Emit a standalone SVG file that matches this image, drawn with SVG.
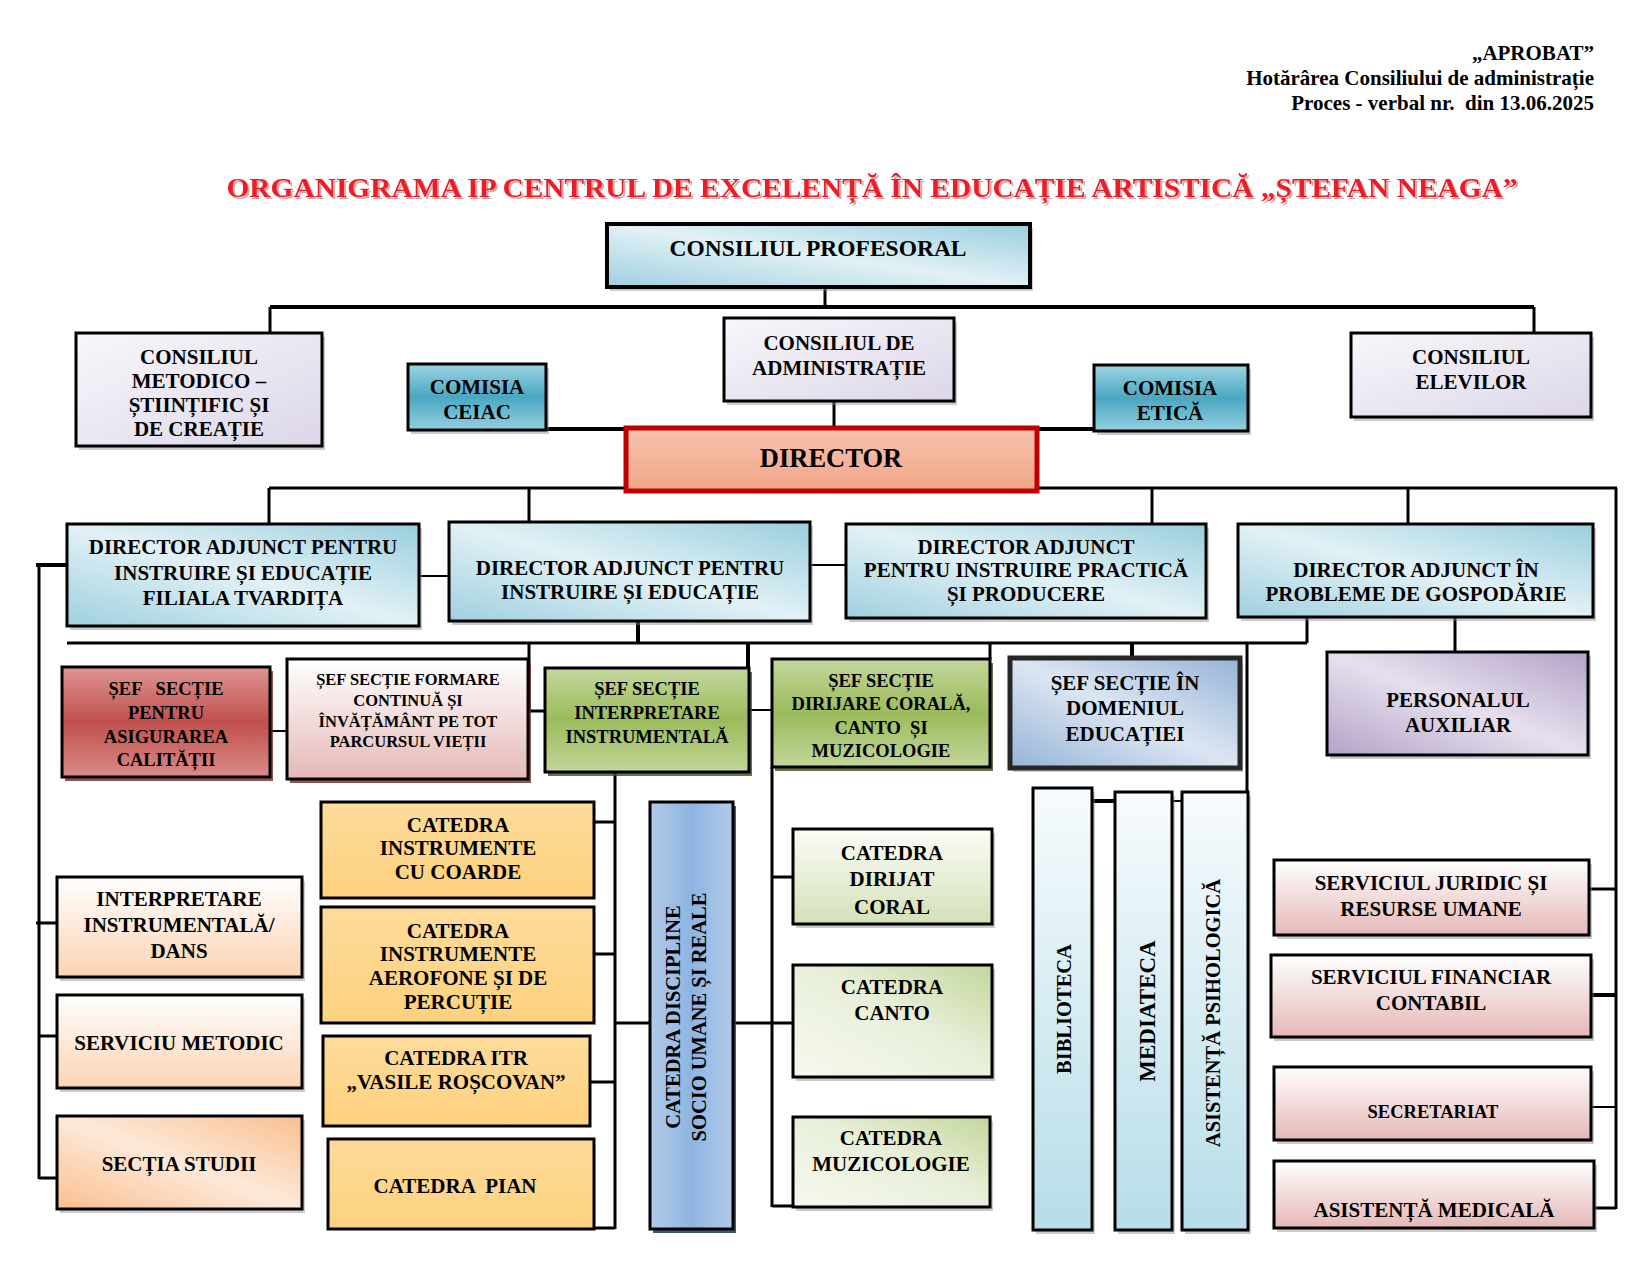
<svg xmlns="http://www.w3.org/2000/svg" width="1650" height="1275" viewBox="0 0 1650 1275">
<defs>
<linearGradient id="gBlue" x1="0" y1="1" x2="1" y2="0"><stop offset="0" stop-color="#9fd0df"/><stop offset="0.5" stop-color="#e2f1f6"/><stop offset="1" stop-color="#99cedd"/></linearGradient>
<linearGradient id="gLav" x1="0" y1="0" x2="1" y2="1"><stop offset="0" stop-color="#f8f7fb"/><stop offset="1" stop-color="#dcd6e8"/></linearGradient>
<linearGradient id="gTeal" x1="0" y1="0" x2="0" y2="1"><stop offset="0" stop-color="#9dd4e3"/><stop offset="0.5" stop-color="#4aa7c1"/><stop offset="1" stop-color="#94d0e0"/></linearGradient>
<linearGradient id="gDir" x1="0" y1="0" x2="0" y2="1"><stop offset="0" stop-color="#f7c3ae"/><stop offset="1" stop-color="#f1a587"/></linearGradient>
<linearGradient id="gRed" x1="0" y1="0" x2="0" y2="1"><stop offset="0" stop-color="#df9593"/><stop offset="0.5" stop-color="#c0504d"/><stop offset="1" stop-color="#d98b88"/></linearGradient>
<linearGradient id="gPinkW" x1="0" y1="0" x2="0" y2="1"><stop offset="0" stop-color="#ffffff"/><stop offset="1" stop-color="#e5b8b7"/></linearGradient>
<linearGradient id="gGreen" x1="0" y1="0" x2="0" y2="1"><stop offset="0" stop-color="#c4d79d"/><stop offset="0.5" stop-color="#9cbb5b"/><stop offset="1" stop-color="#c2d69a"/></linearGradient>
<linearGradient id="gEduc" x1="0" y1="1" x2="1" y2="0"><stop offset="0" stop-color="#95b3d7"/><stop offset="0.5" stop-color="#dce6f2"/><stop offset="1" stop-color="#95b3d7"/></linearGradient>
<linearGradient id="gPurple" x1="0" y1="1" x2="1" y2="0"><stop offset="0" stop-color="#b3a2c7"/><stop offset="0.5" stop-color="#e6e0ee"/><stop offset="1" stop-color="#b3a2c7"/></linearGradient>
<linearGradient id="gPeach" x1="0" y1="0" x2="0" y2="1"><stop offset="0" stop-color="#ffffff"/><stop offset="1" stop-color="#fbd3b3"/></linearGradient>
<linearGradient id="gPeachD" x1="0" y1="1" x2="1" y2="0"><stop offset="0" stop-color="#fabf8f"/><stop offset="0.5" stop-color="#fde9d9"/><stop offset="1" stop-color="#fabf8f"/></linearGradient>
<linearGradient id="gYellow" x1="0" y1="0" x2="0" y2="1"><stop offset="0" stop-color="#fedb9b"/><stop offset="1" stop-color="#fdd27e"/></linearGradient>
<linearGradient id="gDisc" x1="0" y1="0" x2="1" y2="0"><stop offset="0" stop-color="#b3cbe9"/><stop offset="0.5" stop-color="#8db4e2"/><stop offset="1" stop-color="#b3cbe9"/></linearGradient>
<linearGradient id="gLgreen" x1="0" y1="0" x2="0" y2="1"><stop offset="0" stop-color="#fbfcf7"/><stop offset="1" stop-color="#d3e1b8"/></linearGradient>
<linearGradient id="gLgreenD" x1="0" y1="1" x2="1" y2="0"><stop offset="0" stop-color="#f6f9ef"/><stop offset="0.55" stop-color="#e8efd9"/><stop offset="1" stop-color="#c3d69b"/></linearGradient>
<linearGradient id="gLblue" x1="0" y1="0" x2="0" y2="1"><stop offset="0" stop-color="#f7fbfd"/><stop offset="1" stop-color="#b7dde8"/></linearGradient>
<filter id="tsh" x="-5%" y="-30%" width="110%" height="160%"><feDropShadow dx="2" dy="2" stdDeviation="0.6" flood-color="#b07070" flood-opacity="0.6"/></filter>
</defs>
<style>
.sh{fill:#8c8c8c;opacity:0.45}
.b{stroke:#000;stroke-width:3}
.t{font-family:"Liberation Serif","Times New Roman",serif;font-weight:bold;font-size:21px;text-anchor:middle;fill:#000}
.s18{font-size:18.5px}
.s16{font-size:16.5px}
.v{font-size:20.5px}
.big{font-size:23.5px}
.dir{font-size:26.5px}
.med{font-size:23px}
.hd{font-family:"Liberation Serif","Times New Roman",serif;font-weight:bold;font-size:21px;text-anchor:end;fill:#000}
.ti{font-family:"Liberation Serif","Times New Roman",serif;font-weight:bold;font-size:28px;text-anchor:middle;fill:#ee1c25}
.c{stroke:#000;stroke-width:3;fill:none}
.c2{stroke:#000;stroke-width:2;fill:none}
.c4{stroke:#000;stroke-width:4;fill:none}
</style>

<g id="header">
<text class="hd" x="1594" y="60">„APROBAT”</text>
<text class="hd" x="1594" y="85">Hotărârea Consiliului de administrație</text>
<text class="hd" x="1594" y="110" xml:space="preserve">Proces - verbal nr.  din 13.06.2025</text>
<text class="ti" x="872" y="197" textLength="1291" lengthAdjust="spacingAndGlyphs" filter="url(#tsh)">ORGANIGRAMA IP CENTRUL DE EXCELENȚĂ ÎN EDUCAȚIE ARTISTICĂ „ȘTEFAN NEAGA”</text>
</g>

<g id="connectors">
<path class="c" d="M825 287V307"/>
<path class="c4" d="M270 307H1534"/>
<path class="c" d="M270 307V333M1534 307V333"/>
<path class="c" d="M834 401V428"/>
<path class="c4" d="M546 429H626M1037 429H1094"/>
<path class="c" d="M269 488H626M1037 488H1617"/>
<path class="c" d="M269 488V524M529 488V522M1152 488V524M1408 488V524"/>
<path class="c" d="M1616 488V1209"/>
<path class="c4" d="M36 565H67"/>
<path class="c" d="M39 565V1179"/>
<path class="c2" d="M419 576H449M810 565H846"/>
<path class="c" d="M67 643H1307"/>
<path class="c4" d="M638 621V643"/>
<path class="c" d="M1307 617V643M1455 617V652"/>
<path class="c" d="M529 643V711H545"/>
<path class="c4" d="M748 643V668"/>
<path class="c2" d="M749 710H772M270 731H287"/>
<path class="c" d="M990 643V659"/>
<path class="c4" d="M1132 643V658"/>
<path class="c" d="M1247 643V792"/>
<path class="c4" d="M1092 801H1115"/>
<path class="c2" d="M1172 801H1182"/>
<path class="c" d="M615 772V1229M594 822H615M594 954H615M590 1082H615M594 1228H615"/>
<path class="c" d="M615 1023H650" stroke-width="5"/>
<path class="c" d="M772 767V1207M772 877H793M733 1023H793M772 1206H793"/>
<path class="c" d="M36 923H57M39 1036H57M39 1178H57"/>
<path class="c" d="M1589 889H1616M1594 1208H1616"/>
<path class="c4" d="M1591 995H1616"/>
<path class="c2" d="M1591 1107H1616" stroke-width="1.5"/>
</g>

<g id="consiliul-profesoral">
<rect class="sh" x="610" y="228" width="423" height="63"/>
<rect x="607" y="224" width="423" height="63" fill="url(#gBlue)" stroke="#000" stroke-width="4"/>
<text class="t big" x="818" y="256">CONSILIUL PROFESORAL</text>
</g>

<g id="consiliul-metodico">
<rect class="sh" x="79" y="337" width="246" height="113"/>
<rect class="b" x="76" y="333" width="246" height="113" fill="url(#gLav)"/>
<text class="t" x="199" y="364">CONSILIUL</text>
<text class="t" x="199" y="388">METODICO –</text>
<text class="t" x="199" y="412">ȘTIINȚIFIC ȘI</text>
<text class="t" x="199" y="436">DE CREAȚIE</text>
</g>

<g id="comisia-ceiac">
<rect class="sh" x="411" y="368" width="138" height="66"/>
<rect class="b" x="408" y="364" width="138" height="66" fill="url(#gTeal)"/>
<text class="t" x="477" y="394">COMISIA</text>
<text class="t" x="477" y="419">CEIAC</text>
</g>

<g id="consiliul-administratie">
<rect class="sh" x="727" y="322" width="230" height="83"/>
<rect class="b" x="724" y="318" width="230" height="83" fill="url(#gLav)"/>
<text class="t" x="839" y="350">CONSILIUL DE</text>
<text class="t" x="839" y="375">ADMINISTRAȚIE</text>
</g>

<g id="comisia-etica">
<rect class="sh" x="1097" y="369" width="154" height="66"/>
<rect class="b" x="1094" y="365" width="154" height="66" fill="url(#gTeal)"/>
<text class="t" x="1170" y="395">COMISIA</text>
<text class="t" x="1170" y="420">ETICĂ</text>
</g>

<g id="consiliul-elevilor">
<rect class="sh" x="1354" y="337" width="240" height="84"/>
<rect class="b" x="1351" y="333" width="240" height="84" fill="url(#gLav)"/>
<text class="t" x="1471" y="364">CONSILIUL</text>
<text class="t" x="1471" y="389">ELEVILOR</text>
</g>

<g id="director">
<rect x="626" y="428" width="411" height="63" fill="url(#gDir)" stroke="#c00000" stroke-width="5"/>
<text class="t dir" x="831" y="467">DIRECTOR</text>
</g>

<g id="da-filiala">
<rect class="sh" x="70" y="528" width="352" height="102"/>
<rect class="b" x="67" y="524" width="352" height="102" fill="url(#gBlue)"/>
<text class="t" x="243" y="554">DIRECTOR ADJUNCT PENTRU</text>
<text class="t" x="243" y="580">INSTRUIRE ȘI EDUCAȚIE</text>
<text class="t" x="243" y="605">FILIALA TVARDIȚA</text>
</g>

<g id="da-instruire">
<rect class="sh" x="452" y="526" width="361" height="99"/>
<rect class="b" x="449" y="522" width="361" height="99" fill="url(#gBlue)"/>
<text class="t" x="630" y="575">DIRECTOR ADJUNCT PENTRU</text>
<text class="t" x="630" y="599">INSTRUIRE ȘI EDUCAȚIE</text>
</g>

<g id="da-practica">
<rect class="sh" x="849" y="528" width="360" height="94"/>
<rect class="b" x="846" y="524" width="360" height="94" fill="url(#gBlue)"/>
<text class="t" x="1026" y="554">DIRECTOR ADJUNCT</text>
<text class="t" x="1026" y="577">PENTRU INSTRUIRE PRACTICĂ</text>
<text class="t" x="1026" y="601">ȘI PRODUCERE</text>
</g>

<g id="da-gospodarie">
<rect class="sh" x="1241" y="528" width="355" height="93"/>
<rect class="b" x="1238" y="524" width="355" height="93" fill="url(#gBlue)"/>
<text class="t" x="1416" y="577">DIRECTOR ADJUNCT ÎN</text>
<text class="t" x="1416" y="601">PROBLEME DE GOSPODĂRIE</text>
</g>

<g id="sef-calitate">
<rect x="65" y="671" width="208" height="110" fill="#7a2b29" opacity="0.8"/>
<rect class="b" x="62" y="667" width="208" height="110" fill="url(#gRed)"/>
<text class="t s18" x="166" y="695" xml:space="preserve">ȘEF   SECȚIE</text>
<text class="t s18" x="166" y="719">PENTRU</text>
<text class="t s18" x="166" y="743">ASIGURAREA</text>
<text class="t s18" x="166" y="766">CALITĂȚII</text>
</g>

<g id="sef-formare">
<rect x="290" y="663" width="241" height="120" fill="#6b2a29" opacity="0.8"/>
<rect class="b" x="287" y="659" width="241" height="120" fill="url(#gPinkW)"/>
<text class="t s16" x="408" y="685">ȘEF SECȚIE FORMARE</text>
<text class="t s16" x="408" y="706">CONTINUĂ ȘI</text>
<text class="t s16" x="408" y="727">ÎNVĂȚĂMÂNT PE TOT</text>
<text class="t s16" x="408" y="747">PARCURSUL VIEȚII</text>
</g>

<g id="sef-interpretare">
<rect x="548" y="672" width="204" height="104" fill="#3f4f1f" opacity="0.8"/>
<rect class="b" x="545" y="668" width="204" height="104" fill="url(#gGreen)"/>
<text class="t s18" x="647" y="695">ȘEF SECȚIE</text>
<text class="t s18" x="647" y="719">INTERPRETARE</text>
<text class="t s18" x="647" y="743">INSTRUMENTALĂ</text>
</g>

<g id="sef-dirijare">
<rect x="775" y="663" width="218" height="108" fill="#3f4f1f" opacity="0.8"/>
<rect class="b" x="772" y="659" width="218" height="108" fill="url(#gGreen)"/>
<text class="t s18" x="881" y="687">ȘEF SECȚIE</text>
<text class="t s18" x="881" y="710">DIRIJARE CORALĂ,</text>
<text class="t s18" x="881" y="734" xml:space="preserve">CANTO  ȘI</text>
<text class="t s18" x="881" y="757">MUZICOLOGIE</text>
</g>

<g id="sef-educatie">
<rect class="sh" x="1013" y="662" width="230" height="110"/>
<rect x="1010" y="658" width="230" height="110" fill="url(#gEduc)" stroke="#262626" stroke-width="5"/>
<text class="t" x="1125" y="690">ȘEF SECȚIE ÎN</text>
<text class="t" x="1125" y="715">DOMENIUL</text>
<text class="t" x="1125" y="741">EDUCAȚIEI</text>
</g>

<g id="personalul-auxiliar">
<rect class="sh" x="1330" y="656" width="261" height="103"/>
<rect class="b" x="1327" y="652" width="261" height="103" fill="url(#gPurple)"/>
<text class="t" x="1458" y="707">PERSONALUL</text>
<text class="t" x="1458" y="732">AUXILIAR</text>
</g>

<g id="interpretare-dans">
<rect class="sh" x="60" y="881" width="245" height="100"/>
<rect class="b" x="57" y="877" width="245" height="100" fill="url(#gPeach)"/>
<text class="t" x="179" y="906">INTERPRETARE</text>
<text class="t" x="179" y="932">INSTRUMENTALĂ/</text>
<text class="t" x="179" y="958">DANS</text>
</g>

<g id="serviciu-metodic">
<rect class="sh" x="60" y="999" width="245" height="93"/>
<rect class="b" x="57" y="995" width="245" height="93" fill="url(#gPeach)"/>
<text class="t" x="179" y="1050">SERVICIU METODIC</text>
</g>

<g id="sectia-studii">
<rect class="sh" x="60" y="1120" width="245" height="93"/>
<rect class="b" x="57" y="1116" width="245" height="93" fill="url(#gPeachD)"/>
<text class="t" x="179" y="1171">SECȚIA STUDII</text>
</g>

<g id="catedra-coarde">
<rect class="b" x="321" y="802" width="273" height="96" fill="url(#gYellow)"/>
<text class="t" x="458" y="832">CATEDRA</text>
<text class="t" x="458" y="855">INSTRUMENTE</text>
<text class="t" x="458" y="879">CU COARDE</text>
</g>

<g id="catedra-aerofone">
<rect class="b" x="321" y="907" width="273" height="116" fill="url(#gYellow)"/>
<text class="t" x="458" y="938">CATEDRA</text>
<text class="t" x="458" y="961">INSTRUMENTE</text>
<text class="t" x="458" y="985">AEROFONE ȘI DE</text>
<text class="t" x="458" y="1009">PERCUȚIE</text>
</g>

<g id="catedra-itr">
<rect class="b" x="323" y="1036" width="267" height="90" fill="url(#gYellow)"/>
<text class="t" x="456" y="1065">CATEDRA ITR</text>
<text class="t" x="456" y="1089">„VASILE ROȘCOVAN”</text>
</g>

<g id="catedra-pian">
<rect class="b" x="328" y="1139" width="266" height="90" fill="url(#gYellow)"/>
<text class="t" x="455" y="1193" xml:space="preserve">CATEDRA  PIAN</text>
</g>

<g id="catedra-discipline">
<rect x="653" y="806" width="83" height="427" fill="#1f3a5f" opacity="0.85"/>
<rect class="b" x="650" y="802" width="83" height="427" fill="url(#gDisc)"/>
<text class="t v" x="680" y="1017" transform="rotate(-90 680 1017)">CATEDRA DISCIPLINE</text>
<text class="t v" x="706" y="1017" transform="rotate(-90 706 1017)">SOCIO UMANE ȘI REALE</text>
</g>

<g id="catedra-dirijat">
<rect class="sh" x="796" y="833" width="199" height="95"/>
<rect class="b" x="793" y="829" width="199" height="95" fill="url(#gLgreen)"/>
<text class="t" x="892" y="860">CATEDRA</text>
<text class="t" x="892" y="886">DIRIJAT</text>
<text class="t" x="892" y="914">CORAL</text>
</g>

<g id="catedra-canto">
<rect class="sh" x="796" y="969" width="199" height="112"/>
<rect class="b" x="793" y="965" width="199" height="112" fill="url(#gLgreenD)"/>
<text class="t" x="892" y="994">CATEDRA</text>
<text class="t" x="892" y="1020">CANTO</text>
</g>

<g id="catedra-muzicologie">
<rect class="sh" x="796" y="1121" width="197" height="90"/>
<rect class="b" x="793" y="1117" width="197" height="90" fill="url(#gLgreenD)"/>
<text class="t" x="891" y="1145">CATEDRA</text>
<text class="t" x="891" y="1171">MUZICOLOGIE</text>
</g>

<g id="biblioteca">
<rect class="sh" x="1036" y="792" width="59" height="442"/>
<rect class="b" x="1033" y="788" width="59" height="442" fill="url(#gLblue)"/>
<text class="t v" x="1071" y="1009" transform="rotate(-90 1071 1009)">BIBLIOTECA</text>
</g>

<g id="mediateca">
<rect class="sh" x="1118" y="796" width="57" height="438"/>
<rect class="b" x="1115" y="792" width="57" height="438" fill="url(#gLblue)"/>
<text class="t med" x="1155" y="1011" transform="rotate(-90 1155 1011)">MEDIATECA</text>
</g>

<g id="asistenta-psihologica">
<rect class="sh" x="1185" y="796" width="66" height="438"/>
<rect class="b" x="1182" y="792" width="66" height="438" fill="url(#gLblue)"/>
<text class="t v" x="1220" y="1013" transform="rotate(-90 1220 1013)">ASISTENȚĂ PSIHOLOGICĂ</text>
</g>

<g id="serviciul-juridic">
<rect class="sh" x="1277" y="864" width="315" height="75"/>
<rect class="b" x="1274" y="860" width="315" height="75" fill="url(#gPinkW)"/>
<text class="t" x="1431" y="890">SERVICIUL JURIDIC ȘI</text>
<text class="t" x="1431" y="916">RESURSE UMANE</text>
</g>

<g id="serviciul-financiar">
<rect class="sh" x="1274" y="959" width="320" height="82"/>
<rect class="b" x="1271" y="955" width="320" height="82" fill="url(#gPinkW)"/>
<text class="t" x="1431" y="984">SERVICIUL FINANCIAR</text>
<text class="t" x="1431" y="1010">CONTABIL</text>
</g>

<g id="secretariat">
<rect class="sh" x="1277" y="1071" width="317" height="73"/>
<rect class="b" x="1274" y="1067" width="317" height="73" fill="url(#gPinkW)"/>
<text class="t s18" x="1433" y="1118">SECRETARIAT</text>
</g>

<g id="asistenta-medicala">
<rect class="sh" x="1277" y="1165" width="320" height="67"/>
<rect class="b" x="1274" y="1161" width="320" height="67" fill="url(#gPinkW)"/>
<text class="t" x="1434" y="1217">ASISTENȚĂ MEDICALĂ</text>
</g>
</svg>
